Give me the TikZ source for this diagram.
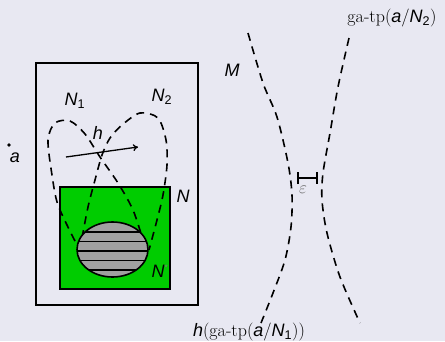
\documentclass[tikz,border=0pt]{standalone}
\usepackage{fontspec}
\newfontfamily\arialfont{Liberation Sans}
\usetikzlibrary{arrows.meta}
\definecolor{slidebg}{RGB}{232,232,242}
\definecolor{nbhdgreen}{RGB}{0,204,0}
\definecolor{hatchgray}{RGB}{160,160,160}
\newcommand{\vr}[1]{{\arialfont\itshape #1}}
\newcommand{\ix}[1]{\textsubscript{\arialfont #1}}

\begin{document}
\begin{tikzpicture}[
    x=1pt, y=-1pt,
    lbl/.style={inner sep=0pt, font=\fontsize{18}{21}\selectfont},
    frame/.style={draw=black, line width=1.6pt},
    nbhd/.style={draw=black, line width=1.6pt, dash pattern=on 8pt off 6pt},
    hatchline/.style={draw=black, line width=1.6pt}
]
\fill[slidebg] (0,0) rectangle (445,341);
\draw[frame] (36,63) rectangle (198,305);
\draw[frame, fill=nbhdgreen] (60,187) rectangle (170,289);
% the two dashed neighbourhoods
\draw[nbhd] plot[smooth] coordinates {(75,241) (58,205) (52,175) (48,140)
    (55,123) (70,121) (85,134) (100,157) (118,183) (133,210) (143,240)};
\draw[nbhd] plot[smooth] coordinates {(82,238) (88,207) (95,180) (102,155)
    (110,138) (122,125) (140,113) (158,118) (166,140) (167,165) (163,195)
    (157,220) (149,250)};
% hatched ellipse
\coordinate (ell) at (112.5,249.5);
\fill[hatchgray] (ell) ellipse (35.5pt and 27.5pt);
\begin{scope}
  \clip (ell) ellipse (35.5pt and 27.5pt);
  \foreach \yy in {232,241.5,251,260.5,270}
    \draw[hatchline] (76,\yy) -- (149,\yy);
\end{scope}
\draw[frame] (ell) ellipse (35.5pt and 27.5pt);
% point a and the map h
\coordinate (pta) at (9,145);
\fill (pta) circle (1.8pt);
\node[lbl] (lbla) at (15,158) {\vr{a}};
\coordinate (htail) at (66,157);
\coordinate (hhead) at (138,147);
\draw[line width=1.3pt, -{To[length=5pt,width=7pt]}] (htail) -- (hhead);
\node[lbl] (lblh) at (98,133) {\vr{h}};
\node[lbl] (lblN1) at (75,101) {\vr{N}\ix{1}};
\node[lbl] (lblN2) at (162,97) {\vr{N}\ix{2}};
\node[lbl] (lblN) at (183,196) {\vr{N}};
\node[lbl] (lblNs) at (160,271) {\vr{N}\textsuperscript{\color{black!50}\arialfont\footnotesize *}};
% the two types in M
\node[lbl] (lblM) at (232,70) {\vr{M}};
\draw[nbhd] plot[smooth] coordinates {(248,33) (263,83) (277,117) (288,163)
    (292,195) (291,227) (285,260) (273,293) (261,323)};
\draw[nbhd] plot[smooth] coordinates {(349,38) (338,87) (330,133) (323,173)
    (322,200) (327,233) (340,277) (360,323)};
\coordinate (epsl) at (297,178);
\coordinate (epsr) at (318,178);
\draw[line width=1.6pt, {Bar[width=12pt]}-{Bar[width=12pt]}] (epsl) -- (epsr);
\node[lbl, text=black!60, font=\fontsize{17}{17}\selectfont] (lbleps) at (303,190) {$\varepsilon$};
\node[lbl] (tpN2) at (392,18) {ga-tp(\vr{a}/\vr{N}\ix{2})};
\node[lbl] (htpN1) at (249,332) {\vr{h}(ga-tp(\vr{a}/\vr{N}\ix{1}))};
\end{tikzpicture}
\end{document}
